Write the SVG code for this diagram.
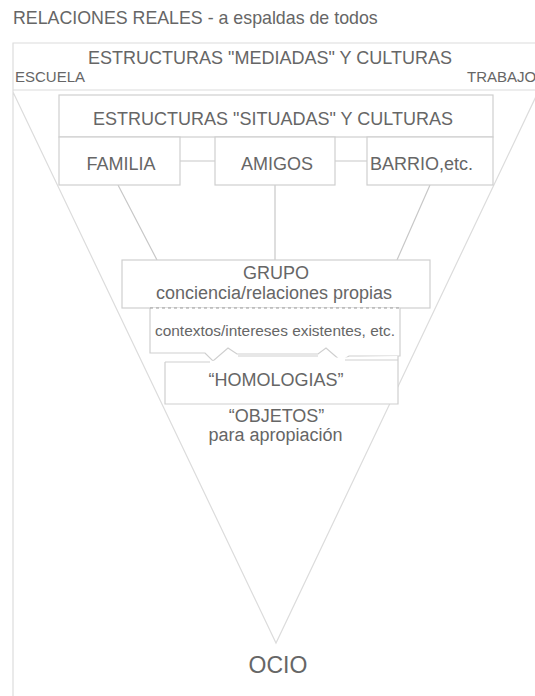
<svg xmlns="http://www.w3.org/2000/svg" width="535" height="696" viewBox="0 0 535 696">
<style>
text{font-family:"Liberation Sans",Arial,sans-serif;fill:#666;}
.box{fill:#fff;stroke:#cfcfcf;stroke-width:1.2;}
.frame{fill:none;stroke:#dcdcdc;stroke-width:1.2;}
.conn{fill:none;stroke:#c8c8c8;stroke-width:1.2;}
.dash{fill:none;stroke:#9a9a9a;stroke-width:1.2;stroke-dasharray:3 3;}
</style>
<rect width="535" height="696" fill="#fff"/>
<g id="frame">
<path class="frame" d="M13,696 V43 H535 M13,90 H535 M13,92 L276,643 L540,88"/>
</g>
<text x="13" y="24" font-size="17.8">RELACIONES REALES - a espaldas de todos</text>
<g id="mediadas"><text x="270" y="64" font-size="18" text-anchor="middle">ESTRUCTURAS "MEDIADAS" Y CULTURAS</text></g>
<g id="escuela"><text x="15" y="82" font-size="15">ESCUELA</text></g>
<g id="trabajo"><text x="467" y="82" font-size="15">TRABAJO</text></g>
<g id="connectors">
<path class="conn" d="M180,161 H215 M335,161 H367 M118,185 L157,260 M275,185 V260 M430,185 L397,260"/>
</g>
<g id="situadas"><rect class="box" x="59" y="95" width="434" height="42"/><text x="273" y="125" font-size="18" text-anchor="middle">ESTRUCTURAS "SITUADAS" Y CULTURAS</text></g>
<g id="familia"><rect class="box" x="59" y="137" width="121" height="48"/><text x="121" y="170" font-size="18" text-anchor="middle">FAMILIA</text></g>
<g id="amigos"><rect class="box" x="215" y="137" width="120" height="48"/><text x="277" y="170" font-size="18" text-anchor="middle">AMIGOS</text></g>
<g id="barrio"><rect class="box" x="367" y="137" width="126" height="48"/><text x="370" y="170" font-size="18">BARRIO,etc.</text></g>
<g id="grupo"><rect class="box" x="122" y="260" width="308" height="48"/><text x="276" y="279" font-size="18" text-anchor="middle">GRUPO</text><text x="274" y="299" font-size="18" text-anchor="middle">conciencia/relaciones propias</text></g>
<g id="contextos">
<path class="box" d="M150,308 V353 H205 L213,361 L228,348 L237,354 H318 L326,348 L341,361 L349,356 H400 V308"/>
<path class="dash" d="M150,308 H400"/>
<text x="275" y="336" font-size="15" text-anchor="middle" textLength="240" lengthAdjust="spacingAndGlyphs">contextos/intereses existentes, etc.</text>
</g>
<g id="homologias">
<path class="box" d="M165,362 H210 M238,356 H318 M345,360 H398 M165,362 V404 H398 V356"/>
<text x="276" y="386" font-size="18" text-anchor="middle">“HOMOLOGIAS”</text>
</g>
<g id="objetos"><text x="276.5" y="422" font-size="18" text-anchor="middle">“OBJETOS”</text><text x="275.5" y="441" font-size="18" text-anchor="middle">para apropiación</text></g>
<g id="ocio"><text x="278" y="673" font-size="23" text-anchor="middle">OCIO</text></g>
</svg>
